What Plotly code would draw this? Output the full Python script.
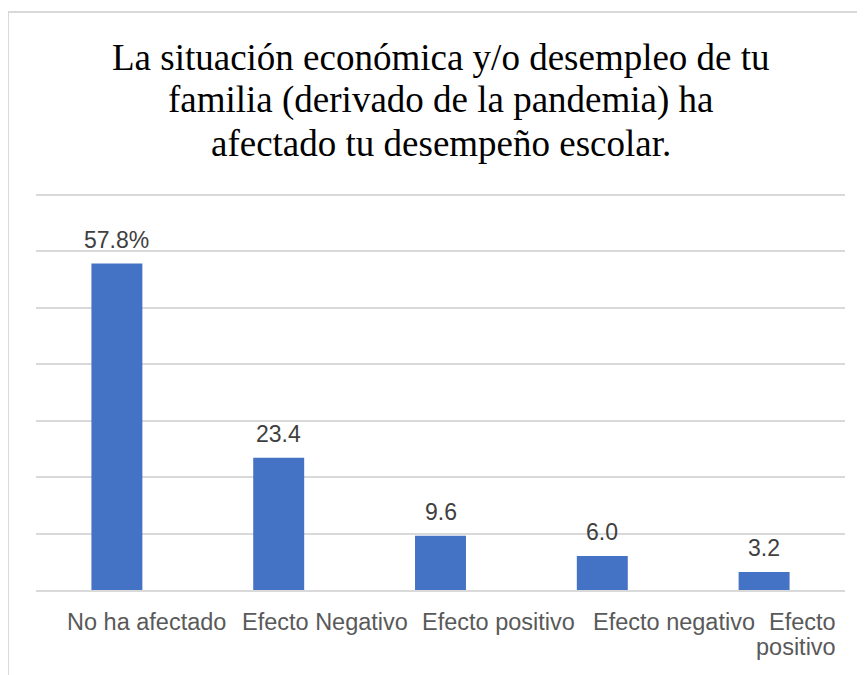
import plotly.graph_objects as go

categories = ["No ha afectado", "Efecto Negativo", "Efecto positivo", "Efecto negativo", "Efecto positivo "]
values = [57.8, 23.4, 9.6, 6.0, 3.2]
value_labels = ["57.8%", "23.4", "9.6", "6.0", "3.2"]
title_lines = ["La situación económica y/o desempleo de tu",
               "familia (derivado de la pandemia) ha",
               "afectado tu desempeño escolar."]

W, H = 865, 675
L, R, T, B = 28, 28, 181, 93
PW, PH = W - L - R, H - T - B

def px_x(px):
    return (px - L) / PW

def px_y(py):
    return (H - B - py) / PH

fig = go.Figure()
fig.add_trace(go.Bar(
    x=categories, y=values,
    marker=dict(color="#4472C4", line=dict(width=0)),
    width=0.315,
    hoverinfo="skip",
))

lab_font = dict(family="Liberation Sans, Arial", size=23, color="#404040")
cat_font = dict(family="Liberation Sans, Arial", size=23.5, color="#595959")

# value labels above bars
for c, v, t in zip(categories, values, value_labels):
    fig.add_annotation(x=c, y=v, xref="x", yref="y", text=t, showarrow=False,
                       yanchor="bottom", yshift=9, font=lab_font)

# category labels (Excel-style placement)
label_left_px = [57, 232, 412, 583]
for lbl, lp in zip(categories[:4], label_left_px):
    fig.add_annotation(x=px_x(lp), y=0, xref="paper", yref="paper", text=lbl,
                       showarrow=False, xanchor="left", yanchor="top", yshift=-17, font=cat_font)
last_words = categories[4].split()
for i, word in enumerate(last_words):
    fig.add_annotation(x=px_x(830), y=0, xref="paper", yref="paper", text=word,
                       showarrow=False, xanchor="right", yanchor="top", yshift=-17 - 25 * i,
                       font=cat_font)

# title (one annotation per line for Excel-like line spacing)
for i, line in enumerate(title_lines):
    fig.add_annotation(x=px_x(433), y=1, xref="paper", yref="paper", text=line,
                       showarrow=False, xanchor="center", yanchor="middle", yshift=132 - 43 * i,
                       font=dict(family="Liberation Serif, Times New Roman", size=37, color="#000000"))

# chart frame
fig.add_shape(type="rect", xref="paper", yref="paper",
              x0=px_x(0), x1=px_x(890), y0=px_y(720), y1=px_y(4),
              line=dict(color="#D9D9D9", width=2), fillcolor="rgba(0,0,0,0)", layer="below")

fig.update_layout(
    width=W, height=H,
    margin=dict(l=L, r=R, t=T, b=B),
    paper_bgcolor="white", plot_bgcolor="white",
    showlegend=False,
    xaxis=dict(showticklabels=False, showgrid=False, showline=True, linecolor="#D9D9D9",
               linewidth=1.5, ticks="", zeroline=False, fixedrange=True),
    yaxis=dict(range=[0, 71], tickvals=[10, 20, 30, 40, 50, 60, 70], showticklabels=False,
               showgrid=True, gridcolor="#D9D9D9", gridwidth=1.5, zeroline=False,
               showline=False, ticks="", fixedrange=True),
)

fig.write_html("out.html")
